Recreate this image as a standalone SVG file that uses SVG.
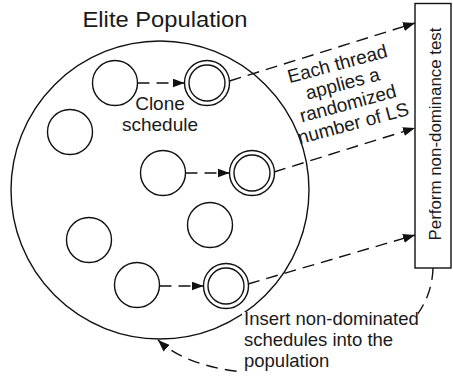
<svg xmlns="http://www.w3.org/2000/svg" width="453" height="376" viewBox="0 0 453 376">
<style>
text{font-family:"Liberation Sans",Arial,sans-serif;fill:#1a1a1a}
.c{fill:none;stroke:#111;stroke-width:1.4}
.d{fill:none;stroke:#111;stroke-width:1.4;stroke-dasharray:12 7}
.t{font-size:18.5px}
</style>
<defs>
<marker id="ah" markerUnits="userSpaceOnUse" markerWidth="14" markerHeight="11" refX="12" refY="4.5" orient="auto">
<path d="M0,0 L12,4.5 L0,9 z" fill="#111"/>
</marker>
</defs>
<rect width="453" height="376" fill="#fff"/>
<g id="population">
<circle class="c" cx="160" cy="190" r="149"/>
<text x="165" y="27" font-size="22.5" text-anchor="middle" textLength="165" lengthAdjust="spacingAndGlyphs">Elite Population</text>
</g>
<g id="s1"><circle class="c" cx="115" cy="83" r="22.5"/></g>
<g id="s2"><circle class="c" cx="70" cy="132" r="22.5"/></g>
<g id="s3"><circle class="c" cx="163" cy="173" r="22.5"/></g>
<g id="s4"><circle class="c" cx="210" cy="225" r="22.5"/></g>
<g id="s5"><circle class="c" cx="89" cy="240" r="22.5"/></g>
<g id="s6"><circle class="c" cx="137" cy="285" r="22.5"/></g>
<g id="cA"><circle class="c" cx="207" cy="83" r="22.5"/><circle class="c" cx="207" cy="83" r="18"/></g>
<g id="cB"><circle class="c" cx="252" cy="173" r="22.5"/><circle class="c" cx="252" cy="173" r="18"/></g>
<g id="cC"><circle class="c" cx="226" cy="286" r="22.5"/><circle class="c" cx="226" cy="286" r="18"/></g>
<g id="test">
<rect class="c" x="415" y="3.5" width="36" height="264.5" fill="#fff"/>
<text transform="translate(441,134) rotate(-90)" font-size="17" text-anchor="middle" textLength="213" lengthAdjust="spacingAndGlyphs">Perform non-dominance test</text>
</g>
<g id="connectors">
<line class="d" x1="137.5" y1="83" x2="184.5" y2="83" marker-end="url(#ah)"/>
<line class="d" x1="185.5" y1="173" x2="229.5" y2="173" marker-end="url(#ah)"/>
<line class="d" x1="159.5" y1="286" x2="203.5" y2="286" marker-end="url(#ah)"/>
<line class="d" x1="229.5" y1="81" x2="415" y2="23" marker-end="url(#ah)"/>
<line class="d" x1="274" y1="172" x2="415" y2="128" marker-end="url(#ah)"/>
<line class="d" x1="248" y1="284" x2="415" y2="235" marker-end="url(#ah)"/>
<path class="d" d="M433,268 C430,380 220,400 158,340" marker-end="url(#ah)"/>
</g>
<g id="labels">
<text x="160" y="110" font-size="19" text-anchor="middle">Clone</text>
<text x="160" y="131" font-size="19" text-anchor="middle">schedule</text>
<g transform="translate(347,100) rotate(-15)" font-size="19" text-anchor="middle">
<text x="0" y="-31">Each thread</text>
<text x="0" y="-10.5">applies a</text>
<text x="0" y="10">randomized</text>
<text x="0" y="30.5">number of LS</text>
</g>
<rect x="242" y="312" width="176" height="64" fill="#fff"/>
<text class="t" x="244" y="325">Insert non-dominated</text>
<text class="t" x="244" y="346">schedules into the</text>
<text class="t" x="244" y="367">population</text>
</g>
</svg>
